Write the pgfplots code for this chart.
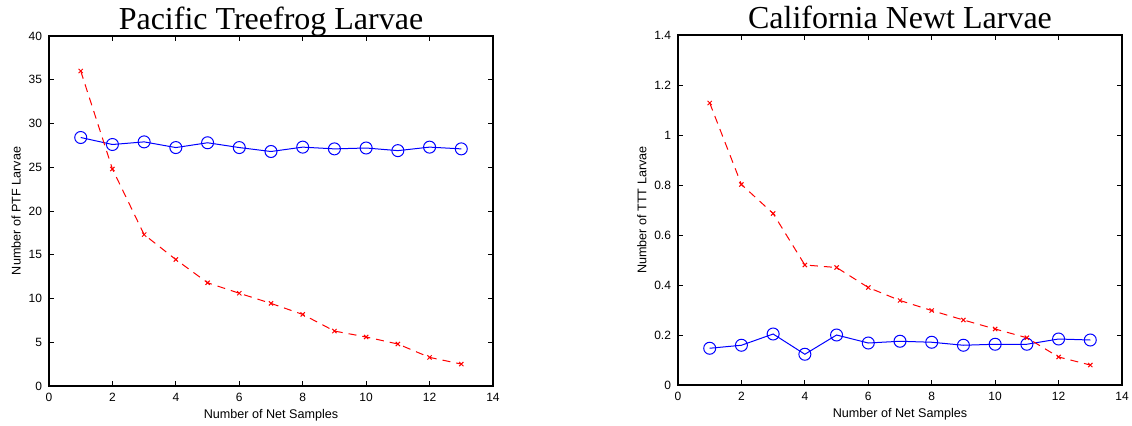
\documentclass[border=0pt]{standalone}
\usepackage{fontspec}
\setmainfont{Liberation Sans}
\newfontfamily\titlefont{Liberation Serif}
\usepackage{pgfplots}
\pgfplotsset{compat=1.18}

\pgfplotsset{
  matlab/.style={
    scale only axis,
    width=222pt, height=175pt,
    xmin=0, xmax=14,
    xtick={0,2,...,14},
    tick align=inside,
    major tick length=2.5pt,
    axis line style={line width=0.7pt},
    tick style={line width=0.4pt, black},
    tick label style={font=\fontsize{6}{7}\selectfont},
    label style={font=\fontsize{6.3}{7}\selectfont},
    % default title style already shifts up by 6pt; net shift is 3.5pt
    title style={font=\titlefont\fontsize{16}{18}\selectfont,
      at={(0.5,1)}, anchor=base, yshift=-2.5pt},
    /pgf/number format/assume math mode=true,
    xlabel={Number of Net Samples},
    xlabel style={yshift=3pt},
    ylabel style={yshift=-3pt},
  },
  bluecirc/.style={blue, line width=0.5pt, mark=o, mark size=3pt, mark options={solid}},
  redx/.style={red, line width=0.5pt, dash pattern=on 4pt off 3pt, mark=x, mark size=1.5pt, mark options={solid}},
}

\begin{document}
\begin{tikzpicture}
\useasboundingbox (0,0) rectangle (566pt,212.5pt);

\begin{axis}[matlab,
  at={(24.5pt,19.5pt)}, anchor=south west,
  ymin=0, ymax=40, ytick={0,5,...,40},
  ylabel={Number of PTF Larvae},
  title={Pacific Treefrog Larvae},
]
\addplot[bluecirc] coordinates {
  (1,28.4) (2,27.6) (3,27.9) (4,27.25) (5,27.8) (6,27.25) (7,26.8)
  (8,27.3) (9,27.1) (10,27.2) (11,26.9) (12,27.3) (13,27.1)
};
\addplot[redx] coordinates {
  (1,36.0) (2,24.8) (3,17.3) (4,14.45) (5,11.8) (6,10.6) (7,9.44)
  (8,8.18) (9,6.28) (10,5.6) (11,4.8) (12,3.27) (13,2.51)
};
\end{axis}

\begin{axis}[matlab,
  at={(339pt,20pt)}, anchor=south west,
  ymin=0, ymax=1.4, ytick={0,0.2,...,1.4},
  ylabel={Number of TTT Larvae},
  title={California Newt Larvae},
]
\addplot[bluecirc] coordinates {
  (1,0.147) (2,0.159) (3,0.204) (4,0.123) (5,0.200) (6,0.168) (7,0.175)
  (8,0.171) (9,0.159) (10,0.163) (11,0.163) (12,0.184) (13,0.180)
};
\addplot[redx] coordinates {
  (1,1.128) (2,0.802) (3,0.686) (4,0.480) (5,0.470) (6,0.390) (7,0.338)
  (8,0.298) (9,0.260) (10,0.224) (11,0.189) (12,0.112) (13,0.080)
};
\end{axis}
\end{tikzpicture}
\end{document}
